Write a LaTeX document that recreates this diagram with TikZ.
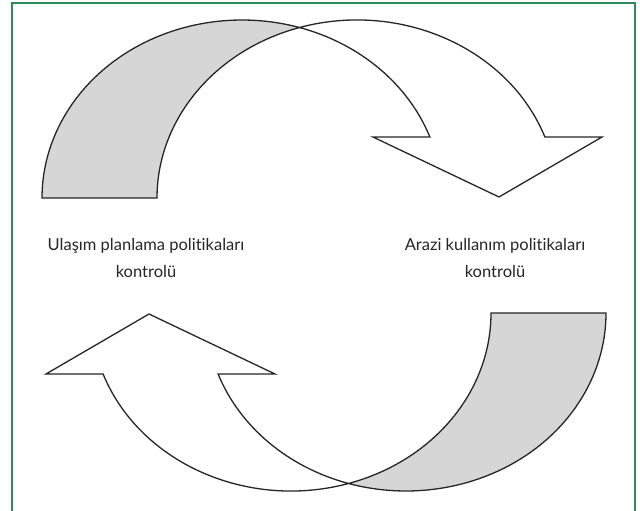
\documentclass[tikz,border=0pt]{standalone}
\usepackage{fontspec}
\setmainfont{Lato}[Ligatures={NoCommon,NoContextual}]
\definecolor{framegreen}{RGB}{46,139,87}
\definecolor{backgray}{RGB}{214,214,214}
\tikzset{
  shapeline/.style={line width=1.3pt, draw=black!85, line join=miter},
  backpart/.style={shapeline, fill=backgray},
  frontpart/.style={shapeline, fill=white},
  labeltext/.style={align=center, inner sep=0pt, font=\fontsize{16.5}{27}\selectfont, text=black!85},
  er/.style={x radius=200pt, y radius=178pt}
}
\begin{document}
\begin{tikzpicture}[x=1pt,y=1pt]
\useasboundingbox (0,0) rectangle (640,-511);
\fill[white] (0,0) rectangle (640,-511);
\begin{scope}
\clip (0,0) rectangle (640,-511);
\draw[framegreen, line width=1.4pt] (12,-3) rectangle (635,-530);
\end{scope}
% upper curved arrow
\begin{scope}
\draw[backpart] (42,-198) arc[start angle=180, end angle=73.29, er]
   arc[start angle=106.71, end angle=180, er] -- cycle;
\draw[frontpart] (299.5,-27.5) arc[start angle=106.71, end angle=20.04, er]
   -- (602,-137) -- (499,-197) -- (373,-137) -- (429.89,-137)
   arc[start angle=20.04, end angle=73.29, er] -- cycle;
\end{scope}
% lower curved arrow (rotated copy)
\begin{scope}[rotate around={180:(324,-255.5)}]
\draw[backpart] (42,-198) arc[start angle=180, end angle=73.29, er]
   arc[start angle=106.71, end angle=180, er] -- cycle;
\draw[frontpart] (299.5,-27.5) arc[start angle=106.71, end angle=20.04, er]
   -- (602,-137) -- (499,-197) -- (373,-137) -- (429.89,-137)
   arc[start angle=20.04, end angle=73.29, er] -- cycle;
\end{scope}
\node[labeltext] (ulasim) at (146,-258) {Ulaşım planlama politikaları\\kontrolü};
\node[labeltext] (arazi) at (495,-258) {Arazi kullanım politikaları\\kontrolü};
\end{tikzpicture}
\end{document}
